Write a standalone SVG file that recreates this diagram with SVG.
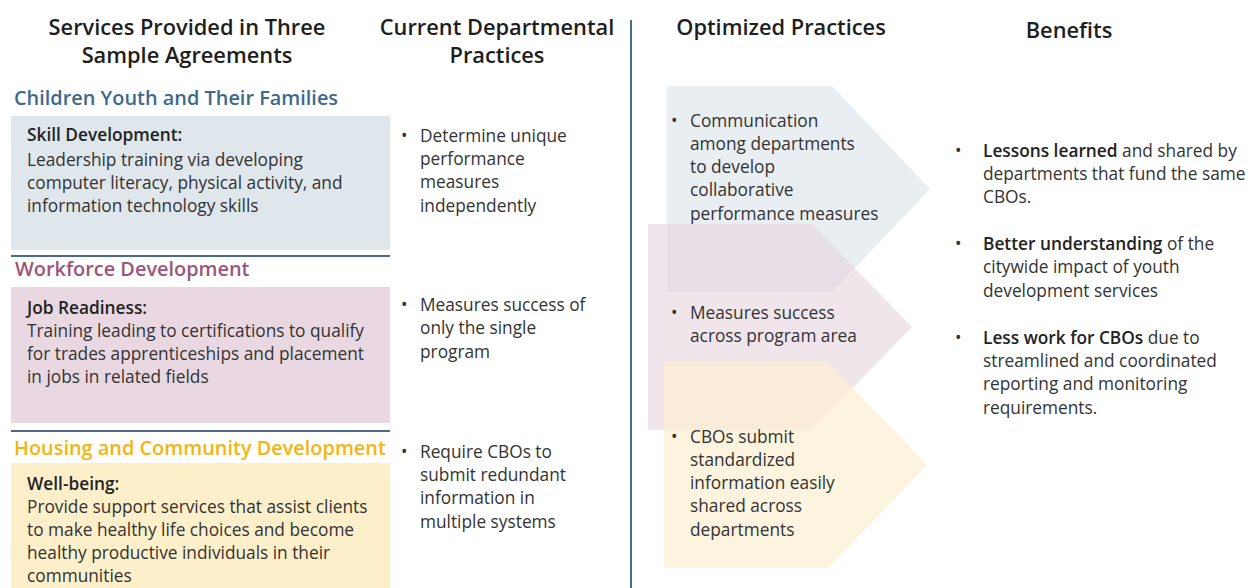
<svg xmlns="http://www.w3.org/2000/svg" width="1249" height="588" viewBox="0 0 1249 588">
<style>
text{font-family:"Open Sans","Noto Sans","Liberation Sans",sans-serif;}
.hd{font-size:21.8px;font-weight:600;fill:#1e1e1e;text-anchor:middle;}
.cat{font-size:19.9px;font-weight:600;}
.b{font-size:17.3px;fill:#333;}
.bb{font-size:17.3px;fill:#222;font-weight:600;}
.rule{stroke:#4b6a87;stroke-width:2;}
</style>
<rect width="1249" height="588" fill="#fff"/>
<g id="headers">
<text class="hd" x="187" y="35">Services Provided in Three</text>
<text class="hd" x="187" y="63">Sample Agreements</text>
<text class="hd" x="497" y="35">Current Departmental</text>
<text class="hd" x="497" y="63">Practices</text>
<text class="hd" x="781" y="35">Optimized Practices</text>
<text class="hd" x="1069" y="38">Benefits</text>
</g>
<line class="rule" x1="631" y1="20" x2="631" y2="588"/>
<g id="cyf">
<text class="cat" x="14" y="105" fill="#3d6a8b">Children Youth and Their Families</text>
<rect x="11" y="116" width="379" height="134" fill="#dfe6ec"/>
<text class="bb" x="27" y="141">Skill Development:</text>
<text class="b" x="27" y="166">Leadership training via developing</text>
<text class="b" x="27" y="189">computer literacy, physical activity, and</text>
<text class="b" x="27" y="212">information technology skills</text>
<line class="rule" x1="11" y1="256" x2="390" y2="256"/>
</g>
<g id="wd">
<text class="cat" x="15" y="276" fill="#9c5679">Workforce Development</text>
<rect x="11" y="287" width="379" height="136" fill="#e9d8e2"/>
<text class="bb" x="27" y="314">Job Readiness:</text>
<text class="b" x="27" y="337">Training leading to certifications to qualify</text>
<text class="b" x="27" y="360">for trades apprenticeships and placement</text>
<text class="b" x="27" y="383">in jobs in related fields</text>
<line class="rule" x1="11" y1="431" x2="390" y2="431"/>
</g>
<g id="hcd">
<text class="cat" x="14" y="455" fill="#f6b40e">Housing and Community Development</text>
<rect x="11" y="463" width="379" height="125" fill="#fdefc9"/>
<text class="bb" x="27" y="490">Well-being:</text>
<text class="b" x="27" y="513">Provide support services that assist clients</text>
<text class="b" x="27" y="536">to make healthy life choices and become</text>
<text class="b" x="27" y="559">healthy productive individuals in their</text>
<text class="b" x="27" y="582">communities</text>
</g>
<g id="current">
<text class="b" x="401" y="142">•</text>
<text class="b" x="420" y="142">Determine unique</text>
<text class="b" x="420" y="165">performance</text>
<text class="b" x="420" y="188">measures</text>
<text class="b" x="420" y="212">independently</text>
<text class="b" x="401" y="311">•</text>
<text class="b" x="420" y="311">Measures success of</text>
<text class="b" x="420" y="334">only the single</text>
<text class="b" x="420" y="358">program</text>
<text class="b" x="401" y="458">•</text>
<text class="b" x="420" y="458">Require CBOs to</text>
<text class="b" x="420" y="481">submit redundant</text>
<text class="b" x="420" y="504">information in</text>
<text class="b" x="420" y="528">multiple systems</text>
</g>
<g id="optimized">
<polygon points="667,86 832,86 930,189 832,292 667,292" fill="#dfe7ec" fill-opacity="0.7"/>
<polygon points="648,224 812,224 912,327 812,430 648,430" fill="#e6cfdc" fill-opacity="0.55"/>
<polygon points="664,362 828,362 927,465 828,568 664,568" fill="#fcf0d2" fill-opacity="0.7"/>
<text class="b" x="671" y="127">•</text>
<text class="b" x="690" y="127">Communication</text>
<text class="b" x="690" y="150">among departments</text>
<text class="b" x="690" y="173">to develop</text>
<text class="b" x="690" y="196">collaborative</text>
<text class="b" x="690" y="220">performance measures</text>
<text class="b" x="671" y="319">•</text>
<text class="b" x="690" y="319">Measures success</text>
<text class="b" x="690" y="342">across program area</text>
<text class="b" x="671" y="443">•</text>
<text class="b" x="690" y="443">CBOs submit</text>
<text class="b" x="690" y="466">standardized</text>
<text class="b" x="690" y="489">information easily</text>
<text class="b" x="690" y="512">shared across</text>
<text class="b" x="690" y="536">departments</text>
</g>
<g id="benefits">
<text class="b" x="955" y="157">•</text>
<text class="b" x="983" y="157"><tspan class="bb">Lessons learned</tspan> and shared by</text>
<text class="b" x="983" y="180">departments that fund the same</text>
<text class="b" x="983" y="203">CBOs.</text>
<text class="b" x="955" y="250">•</text>
<text class="b" x="983" y="250"><tspan class="bb">Better understanding</tspan> of the</text>
<text class="b" x="983" y="273">citywide impact of youth</text>
<text class="b" x="983" y="297">development services</text>
<text class="b" x="955" y="344">•</text>
<text class="b" x="983" y="344"><tspan class="bb">Less work for CBOs</tspan> due to</text>
<text class="b" x="983" y="367">streamlined and coordinated</text>
<text class="b" x="983" y="390">reporting and monitoring</text>
<text class="b" x="983" y="414">requirements.</text>
</g>
</svg>
